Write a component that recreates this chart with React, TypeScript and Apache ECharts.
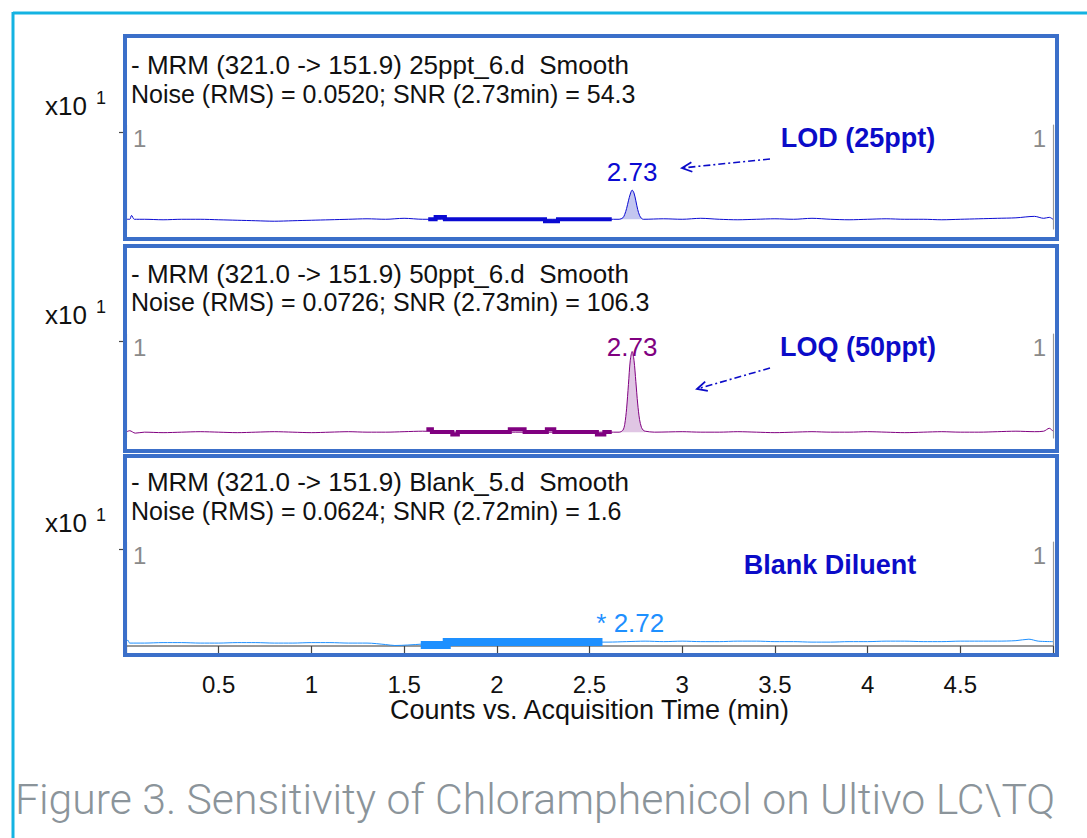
import React, { useEffect, useRef } from "react";
import * as echarts from "echarts";

// ---------- DATA (time in min, counts in x10^1) ----------
const lodTrace: [number, number][] = [
  [0, 0.10], [0.02, 0.10], [0.03, 0.14], [0.045, 0.10], [0.1, 0.10], [0.2, 0.095], [0.3, 0.10], [0.4, 0.10],
  [0.5, 0.095], [0.6, 0.09], [0.7, 0.085], [0.8, 0.08], [0.9, 0.085], [1.0, 0.09], [1.1, 0.095], [1.2, 0.10],
  [1.3, 0.105], [1.4, 0.10], [1.5, 0.11], [1.6, 0.10], [1.8, 0.10], [2.0, 0.10], [2.2, 0.10], [2.4, 0.10],
  [2.6, 0.10], [2.66, 0.10], [2.68, 0.115], [2.69, 0.15], [2.70, 0.21], [2.71, 0.29], [2.72, 0.36], [2.73, 0.40],
  [2.74, 0.37], [2.75, 0.29], [2.76, 0.20], [2.77, 0.14], [2.78, 0.11], [2.79, 0.10], [2.9, 0.105], [3.0, 0.10],
  [3.1, 0.11], [3.2, 0.10], [3.3, 0.095], [3.4, 0.10], [3.5, 0.105], [3.6, 0.10], [3.7, 0.11], [3.8, 0.10],
  [3.9, 0.095], [4.0, 0.10], [4.1, 0.105], [4.2, 0.10], [4.3, 0.10], [4.4, 0.095], [4.5, 0.10], [4.6, 0.105],
  [4.7, 0.11], [4.8, 0.115], [4.9, 0.13], [4.95, 0.11], [4.98, 0.12], [5.0, 0.10],
];
const loqTrace: [number, number][] = [
  [0, 0.06], [0.02, 0.075], [0.05, 0.05], [0.1, 0.06], [0.2, 0.055], [0.3, 0.06], [0.4, 0.065], [0.5, 0.06],
  [0.6, 0.055], [0.7, 0.06], [0.8, 0.065], [0.9, 0.06], [1.0, 0.055], [1.1, 0.06], [1.2, 0.065], [1.3, 0.06],
  [1.4, 0.06], [1.5, 0.065], [1.6, 0.07], [1.8, 0.06], [2.0, 0.06], [2.2, 0.06], [2.4, 0.06], [2.6, 0.06],
  [2.66, 0.06], [2.68, 0.08], [2.69, 0.14], [2.70, 0.30], [2.71, 0.55], [2.72, 0.80], [2.73, 0.89], [2.74, 0.80],
  [2.75, 0.58], [2.76, 0.35], [2.77, 0.19], [2.78, 0.11], [2.79, 0.08], [2.80, 0.07], [2.85, 0.06], [3.0, 0.065],
  [3.1, 0.06], [3.2, 0.06], [3.3, 0.065], [3.4, 0.06], [3.5, 0.055], [3.6, 0.06], [3.7, 0.065], [3.8, 0.06],
  [3.9, 0.06], [4.0, 0.065], [4.1, 0.06], [4.2, 0.055], [4.3, 0.06], [4.4, 0.065], [4.5, 0.06], [4.6, 0.06],
  [4.7, 0.065], [4.8, 0.07], [4.9, 0.065], [4.95, 0.07], [4.98, 0.10], [5.0, 0.07],
];
const blankTrace: [number, number][] = [
  [0, 0.04], [0.01, 0.06], [0.02, 0.03], [0.1, 0.03], [0.2, 0.035], [0.3, 0.035], [0.4, 0.03], [0.5, 0.03],
  [0.6, 0.035], [0.7, 0.035], [0.8, 0.03], [0.9, 0.03], [1.0, 0.035], [1.1, 0.035], [1.2, 0.03], [1.3, 0.03],
  [1.4, 0.015], [1.45, 0.005], [1.52, 0.01], [1.6, 0.02], [1.8, 0.04], [2.0, 0.04], [2.2, 0.04], [2.4, 0.04],
  [2.6, 0.04], [2.7, 0.045], [2.8, 0.05], [2.9, 0.045], [3.0, 0.05], [3.1, 0.045], [3.2, 0.045], [3.3, 0.05],
  [3.4, 0.05], [3.5, 0.045], [3.6, 0.045], [3.7, 0.04], [3.8, 0.04], [3.9, 0.045], [4.0, 0.045], [4.1, 0.05],
  [4.2, 0.05], [4.3, 0.045], [4.4, 0.045], [4.5, 0.05], [4.6, 0.05], [4.7, 0.05], [4.8, 0.055], [4.87, 0.07],
  [4.92, 0.05], [5.0, 0.045],
];
const lodNoise: [number, number][] = [
  [1.63, 0.10], [1.67, 0.10], [1.67, 0.124], [1.72, 0.124], [1.72, 0.10], [2.26, 0.10], [2.26, 0.08],
  [2.33, 0.08], [2.33, 0.10], [2.62, 0.10],
];
const loqNoise: [number, number][] = [
  [1.62, 0.09], [1.65, 0.09], [1.65, 0.062], [1.76, 0.062], [1.76, 0.035], [1.79, 0.035], [1.79, 0.062],
  [2.07, 0.062], [2.07, 0.09], [2.15, 0.09], [2.15, 0.062], [2.27, 0.062], [2.27, 0.09], [2.31, 0.09],
  [2.31, 0.062], [2.54, 0.062], [2.54, 0.035], [2.58, 0.035], [2.58, 0.062], [2.62, 0.062],
];
const blankNoise: [number, number][] = [[1.59, 0.01], [1.73, 0.01], [1.73, 0.04], [2.57, 0.04]];

const traces = [lodTrace, loqTrace, blankTrace];
const noiseRegions = [lodNoise, loqNoise, blankNoise];
const baselines = [0.10, 0.06, 0.04];
const peakWindow = [2.655, 2.825];
const peakApex: [number, number][] = [[2.73, 0.40], [2.73, 0.89], [2.72, 0.04]];
const peakLabels = ["2.73", "2.73", "* 2.72"];
const headers = [
  ["- MRM (321.0 -> 151.9) 25ppt_6.d  Smooth", "Noise (RMS) = 0.0520; SNR (2.73min) = 54.3"],
  ["- MRM (321.0 -> 151.9) 50ppt_6.d  Smooth", "Noise (RMS) = 0.0726; SNR (2.73min) = 106.3"],
  ["- MRM (321.0 -> 151.9) Blank_5.d  Smooth", "Noise (RMS) = 0.0624; SNR (2.72min) = 1.6"],
];
const notes = ["LOD (25ppt)", "LOQ (50ppt)", "Blank Diluent"];
const xAxisTitle = "Counts vs. Acquisition Time (min)";
const yScaleLabel = "x10";
const yScaleExp = "1";
const caption = "Figure 3. Sensitivity of Chloramphenicol on Ultivo LC\\TQ";

// ---------- STYLE / LAYOUT ----------
const traceColors = ["#0a0ad2", "#800080", "#1e90ff"];
const fillColors = ["#c3c6f0", "#e0c6e4", "transparent"];
const noiseWidths = [4, 4, 8];
const noteColor = "#0b0bc8";
const boxColor = "#3b6fc9";
const frameColor = "#14b3e2";
const GRID_LEFT = 126;
const GRID_RIGHT = 34;
const GRID_TOPS = [125, 334, 542];
const GRID_H = 104;
const Y_MAX = 1.07;
const FONT = '"Liberation Sans", Arial, sans-serif';

function measure(text: string, font: string): number {
  const ctx = document.createElement("canvas").getContext("2d");
  if (!ctx) return text.length * 20;
  ctx.font = font;
  return ctx.measureText(text).width;
}

function arrow(x1: number, y1: number, x2: number, y2: number, color: string): any[] {
  const dx = x2 - x1, dy = y2 - y1;
  const len = Math.hypot(dx, dy);
  const ux = dx / len, uy = dy / len;
  const L = 11, a = 0.45;
  const p1 = [x2 - L * (ux * Math.cos(a) - uy * Math.sin(a)), y2 - L * (uy * Math.cos(a) + ux * Math.sin(a))];
  const p2 = [x2 - L * (ux * Math.cos(-a) - uy * Math.sin(-a)), y2 - L * (uy * Math.cos(-a) + ux * Math.sin(-a))];
  return [
    { type: "line", shape: { x1, y1, x2, y2 }, style: { stroke: color, lineWidth: 1.6, lineDash: [7, 3, 2, 3] } },
    { type: "polyline", shape: { points: [p1, [x2, y2], p2] }, style: { stroke: color, lineWidth: 1.8, fill: null } },
  ];
}

export default function App() {
  const ref = useRef<HTMLDivElement>(null);
  useEffect(() => {
    if (!ref.current) return;
    const chart = echarts.init(ref.current, undefined, { renderer: "svg" });

    const grids = GRID_TOPS.map((top) => ({ left: GRID_LEFT, right: GRID_RIGHT, top, height: GRID_H }));

    const xAxes = [0, 1, 2].map((i) => {
      const base: any = { type: "value", gridIndex: i, min: 0, max: 5, interval: 0.5 };
      if (i < 2) return { ...base, show: false };
      return {
        ...base,
        position: "bottom",
        offset: 14,
        axisLine: { show: true, lineStyle: { color: "#777", width: 1.5 } },
        axisTick: { show: true, length: 8, lineStyle: { color: "#444", width: 1.2 } },
        splitLine: { show: false },
        axisLabel: {
          fontFamily: FONT, fontSize: 24, color: "#111", margin: 12,
          formatter: (v: number) => (v <= 0 || v >= 5 ? "" : String(v)),
        },
        name: xAxisTitle,
        nameLocation: "middle",
        nameGap: 36,
        nameTextStyle: { fontFamily: FONT, fontSize: 27, color: "#111" },
      };
    });

    const yLabel = (v: number) => (v === 1 ? "1" : "");
    const yAxes: any[] = [];
    for (let i = 0; i < 3; i++) {
      const base = { type: "value", gridIndex: i, min: 0, max: Y_MAX, interval: 1, splitLine: { show: false } };
      yAxes.push({
        ...base, position: "left", offset: 5,
        axisLine: { show: true, lineStyle: { color: "#444", width: 1.5 } },
        axisTick: { show: true, length: 7, lineStyle: { color: "#444", width: 1.2 }, customValues: [1] },
        axisLabel: { inside: true, margin: 12, fontFamily: FONT, fontSize: 24, lineHeight: 14, color: "#8a8a8a", verticalAlign: "top", formatter: yLabel },
      });
      yAxes.push({
        ...base, position: "left", offset: 0,
        axisLine: { show: true, lineStyle: { color: "#b0b0b0", width: 1.2 } },
        axisTick: { show: false }, axisLabel: { show: false },
      });
      yAxes.push({
        ...base, position: "right", offset: 0,
        axisLine: { show: true, lineStyle: { color: "#999", width: 1.2 } },
        axisTick: { show: false },
        axisLabel: { inside: true, margin: 7, fontFamily: FONT, fontSize: 24, lineHeight: 14, color: "#8a8a8a", verticalAlign: "top", formatter: yLabel },
      });
    }

    const series: any[] = [];
    const labelOffsets = [[0, -18], [0, -4], [0, -19]];
    for (let i = 0; i < 3; i++) {
      series.push({
        type: "line", xAxisIndex: i, yAxisIndex: 3 * i, data: traces[i], symbol: "none",
        smooth: 0.3, lineStyle: { color: traceColors[i], width: 1 }, z: 2,
        markPoint: {
          symbol: "circle", symbolSize: 1, itemStyle: { color: "rgba(0,0,0,0)" },
          label: {
            show: true, position: "inside", offset: labelOffsets[i], formatter: peakLabels[i],
            fontFamily: FONT, fontSize: 26, color: traceColors[i],
          },
          data: [{ coord: peakApex[i] }],
        },
      });
      if (i < 2) {
        series.push({
          type: "line", xAxisIndex: i, yAxisIndex: 3 * i,
          data: traces[i].filter((p) => p[0] >= peakWindow[0] && p[0] <= peakWindow[1]),
          symbol: "none", smooth: 0.3, lineStyle: { width: 0, opacity: 0 },
          areaStyle: { color: fillColors[i], opacity: 1, origin: baselines[i] }, z: 1,
        });
      }
      series.push({
        type: "line", xAxisIndex: i, yAxisIndex: 3 * i, data: noiseRegions[i], symbol: "none",
        lineStyle: { color: traceColors[i], width: noiseWidths[i], cap: "butt", join: "miter" }, clip: false, z: 3,
      });
    }

    const graphics: any[] = [];
    graphics.push({ type: "line", shape: { x1: 13, y1: 13, x2: 1087, y2: 13 }, style: { stroke: frameColor, lineWidth: 3 } });
    graphics.push({ type: "line", shape: { x1: 13, y1: 12, x2: 13, y2: 838 }, style: { stroke: frameColor, lineWidth: 3 } });
    const boxes = [[36, 203], [246, 205], [456, 199]];
    boxes.forEach(([y, h]) => {
      graphics.push({ type: "rect", shape: { x: 125, y, width: 932, height: h }, style: { stroke: boxColor, lineWidth: 4, fill: null }, z: 10 });
    });
    const line1Y = [65, 274, 482];
    const line2Y = [94, 302, 511];
    const scaleY = [106, 315, 523];
    for (let i = 0; i < 3; i++) {
      graphics.push({ type: "text", x: 131, y: line1Y[i], style: { text: headers[i][0], fill: "#111", font: `26px ${FONT}`, verticalAlign: "middle" } });
      graphics.push({ type: "text", x: 131, y: line2Y[i], style: { text: headers[i][1], fill: "#111", font: `25px ${FONT}`, verticalAlign: "middle" } });
      graphics.push({ type: "text", x: 45, y: scaleY[i], style: { text: yScaleLabel, fill: "#111", font: `26px ${FONT}`, verticalAlign: "middle" } });
      graphics.push({ type: "text", x: 96, y: scaleY[i] - 8, style: { text: yScaleExp, fill: "#111", font: `18px ${FONT}`, verticalAlign: "middle" } });
    }
    const notePos = [[858, 138], [858, 347], [830, 565]];
    notes.forEach((t, i) => {
      graphics.push({ type: "text", x: notePos[i][0], y: notePos[i][1], style: { text: t, fill: noteColor, font: `bold 27px ${FONT}`, align: "center", verticalAlign: "middle" } });
    });
    graphics.push(...arrow(770, 159, 682, 168, noteColor));
    graphics.push(...arrow(770, 368, 697, 389, noteColor));
    const capFont = `300 42px Roboto`;
    const capW = measure(caption, capFont);
    graphics.push({ type: "text", x: 15, y: 800, scaleX: 1041 / capW, style: { text: caption, fill: "#8b949a", font: capFont, verticalAlign: "middle" } });

    chart.setOption({
      animation: false,
      backgroundColor: "#ffffff",
      grid: grids,
      xAxis: xAxes,
      yAxis: yAxes,
      series,
      graphic: { elements: graphics },
    });
    return () => chart.dispose();
  }, []);
  return <div ref={ref} style={{ position: "fixed", left: 0, top: 0, width: 1087, height: 838 }} />;
}
